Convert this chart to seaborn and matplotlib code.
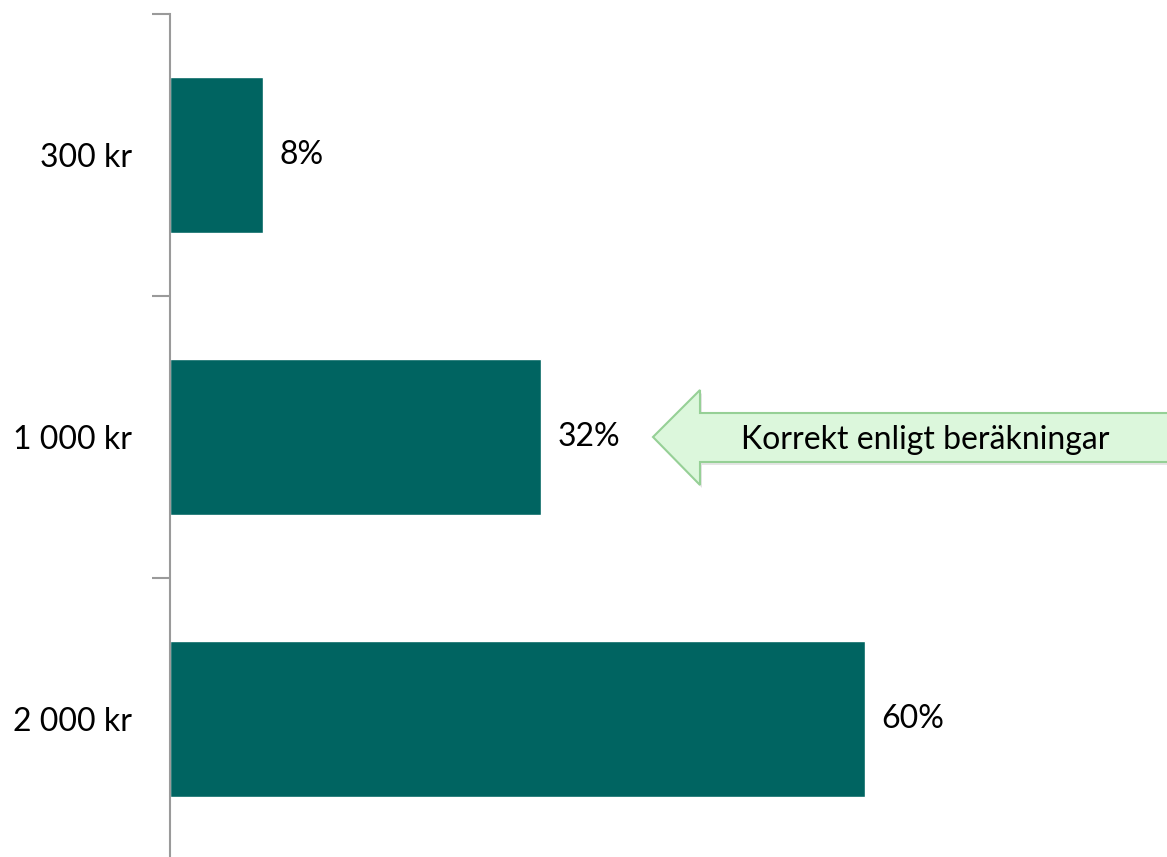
import matplotlib
matplotlib.use('Agg')
import matplotlib.pyplot as plt
import numpy as np
import pandas as pd
import seaborn as sns
from matplotlib.patches import Polygon

categories = ['300 kr', '1 000 kr', '2 000 kr']
shares = [8, 32, 60]
value_labels = ['8%', '32%', '60%']
note_text = 'Korrekt enligt beräkningar'

sns.set_theme(style='white')
plt.rcParams['font.family'] = ['Lato', 'DejaVu Sans']

df = pd.DataFrame({'belopp': categories, 'andel': shares})

W, H = 1167, 857
fig = plt.figure(figsize=(W / 100, H / 100), dpi=100)
# axes placed in pixel terms: y axis at x=170, categories 282 px apart from y=14
ax = fig.add_axes([170 / W, -3 / H, (W - 170) / W, 846 / H])

sns.barplot(data=df, y='belopp', x='andel', orient='h', color='#006461',
            width=0.556, saturation=1, ax=ax)
ax.set_xlim(0, (W - 170) / 11.58)
ax.set_ylim(2.5, -0.5)

ax.bar_label(ax.containers[0], labels=value_labels, padding=12,
             fontsize=23, color='black')

ax.set_xlabel('')
ax.set_ylabel('')
ax.set_xticks([])
ax.set_yticks(range(len(categories)))
ax.set_yticklabels(categories, fontsize=23, color='black')
ax.tick_params(axis='y', which='major', length=0, pad=27)
ax.set_yticks(np.arange(-0.5, len(categories), 1), minor=True)
ax.tick_params(axis='y', which='minor', length=13, width=1.5,
               color='#9a9a9a', left=True)
for side in ['top', 'right', 'bottom']:
    ax.spines[side].set_visible(False)
ax.spines['left'].set_color('#9a9a9a')
ax.spines['left'].set_linewidth(1.5)
ax.set_facecolor('none')

# callout arrow pointing at the 32% label (figure pixel coords, y from top)
pts = [(653, 437), (700, 390), (700, 413), (1180, 413),
       (1180, 462), (700, 462), (700, 485)]
shadow = Polygon([(x + 2, H - y - 3) for x, y in pts], closed=True,
                 transform=None, facecolor='#cccccc', edgecolor='none',
                 alpha=0.5, zorder=5)
arrow = Polygon([(x, H - y) for x, y in pts], closed=True, transform=None,
                facecolor='#dcf7dc', edgecolor='#96d096', linewidth=1.5,
                zorder=6)
fig.patches.extend([shadow, arrow])
fig.text(925 / W, 1 - 440 / H, note_text, ha='center', va='center',
         fontsize=23, color='black', zorder=7)

fig.savefig('out.png', dpi=100)
